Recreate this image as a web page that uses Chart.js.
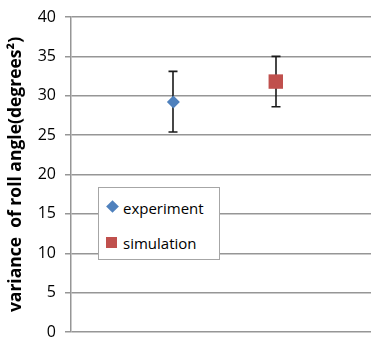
<!DOCTYPE html>
<html>
<head>
<meta charset="utf-8">
<script src="https://cdn.jsdelivr.net/npm/chart.js@4.4.0/dist/chart.umd.min.js"></script>
<style>
html,body{margin:0;padding:0;background:#fff;}
#wrap{position:relative;width:371px;height:338px;}
#legend{position:absolute;left:98px;top:187px;width:122px;height:73px;border:1px solid #a6a6a6;background:#fff;box-sizing:border-box;font-family:"Open Sans",sans-serif;font-size:15px;color:#000;}
.lab{position:absolute;left:24px;white-space:nowrap;line-height:20px;height:20px;}
.dia{position:absolute;left:9px;top:14px;width:9px;height:9px;background:#4F81BD;transform:rotate(45deg);}
.sq{position:absolute;left:7px;top:49px;width:11px;height:11px;background:#C0504D;}
</style>
</head>
<body>
<div id="wrap">
<canvas id="c" width="371" height="338"></canvas>
<div id="legend">
  <div class="dia"></div><div class="lab" style="top:10px">experiment</div>
  <div class="sq"></div><div class="lab" style="top:45px">simulation</div>
</div>
</div>
<script>
const seriesNames = ["experiment", "simulation"];
const xPositions = [1, 2];
const means = [29.2, 31.8];
const errUpper = [33.1, 35.0];
const errLower = [25.4, 28.6];
const yTicks = [0, 5, 10, 15, 20, 25, 30, 35, 40];
const yTitle = "variance  of roll angle(degrees\u00B2)";

const errorBars = {
  id: 'errorBars',
  beforeDatasetsDraw(chart) {
    const ctx = chart.ctx, xs = chart.scales.x, ys = chart.scales.y;
    ctx.save();
    ctx.strokeStyle = '#1a1a1a';
    ctx.lineWidth = 1.6;
    for (let i = 0; i < means.length; i++) {
      const x = Math.round(xs.getPixelForValue(xPositions[i]));
      const yt = ys.getPixelForValue(errUpper[i]);
      const yb = ys.getPixelForValue(errLower[i]);
      ctx.beginPath();
      ctx.moveTo(x, yt); ctx.lineTo(x, yb);
      ctx.moveTo(x - 4.5, yt); ctx.lineTo(x + 4.5, yt);
      ctx.moveTo(x - 4.5, yb); ctx.lineTo(x + 4.5, yb);
      ctx.stroke();
    }
    ctx.restore();
  }
};

new Chart(document.getElementById('c'), {
  type: 'scatter',
  data: {
    datasets: [
      { label: seriesNames[0], data: [{x: xPositions[0], y: means[0]}], pointStyle: 'rectRot', pointRadius: 6.5, backgroundColor: '#4F81BD', borderColor: '#4F81BD', borderWidth: 0 },
      { label: seriesNames[1], data: [{x: xPositions[1], y: means[1]}], pointStyle: 'rect', pointRadius: 10.2, backgroundColor: '#C0504D', borderColor: '#C0504D', borderWidth: 0 }
    ]
  },
  options: {
    responsive: false,
    animation: false,
    layout: { autoPadding: false, padding: { top: 17, bottom: 6, left: 0, right: 0 } },
    plugins: { legend: { display: false }, tooltip: { enabled: false } },
    scales: {
      x: { type: 'linear', min: 0, max: 2.93, display: false, ticks: { display: false } },
      y: {
        min: 0, max: 40,
        afterBuildTicks(scale) { scale.ticks = yTicks.map(v => ({ value: v })); },
        afterFit(scale) { scale.width = 71; scale.paddingTop = 0; scale.paddingBottom = 0; },
        grid: { color: '#969696', lineWidth: 1.5, tickLength: 6 },
        border: { color: '#969696', width: 1.5 },
        ticks: { color: '#000', padding: 9, font: { family: 'Open Sans', size: 16 } },
        title: { display: true, text: yTitle, color: '#000', padding: { top: 6, bottom: 0 }, font: { family: 'Open Sans', size: 17.5, weight: 'bold' } }
      }
    }
  },
  plugins: [errorBars]
});
</script>
</body>
</html>
